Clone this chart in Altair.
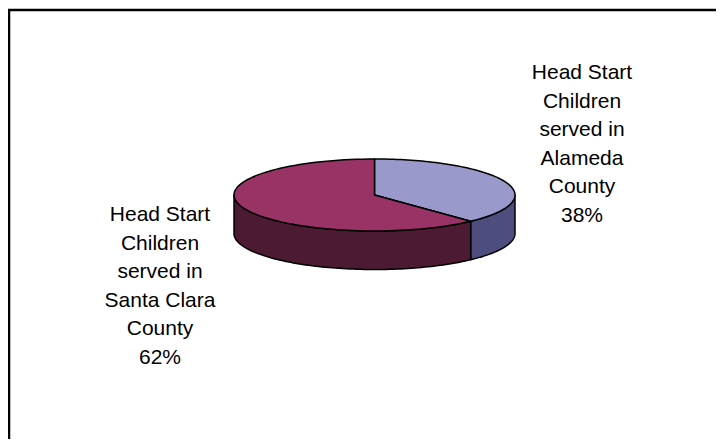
import math
import altair as alt
import pandas as pd

labels = ["Head Start|Children|served in|Alameda|County|38%", "Head Start|Children|served in|Santa Clara|County|62%"]
shares = [38, 62]
top_colors = ["#9999CC", "#993366"]
side_colors = ["#4D4D80", "#4D1A33"]
W, H = 708, 431
CX, CY, RX, RY, DEPTH = 366.5, 187, 140.5, 36, 38.5

def pt(deg, dy=0):
    a = math.radians(deg)
    return CX + RX * math.sin(a), CY - RY * math.cos(a) + dy

def steps(a, b, n=90):
    return [a + (b - a) * i / n for i in range(n + 1)]

x_s = alt.Scale(domain=[0, W], range=[0, W], nice=False, zero=False)
y_s = alt.Scale(domain=[0, H], range=[0, H], nice=False, zero=False)

def poly(points, fill):
    df = pd.DataFrame({"x": [p[0] for p in points], "y": [p[1] for p in points], "i": list(range(len(points)))})
    return alt.Chart(df).mark_line(fill=fill, stroke="#000000", strokeWidth=1.5, strokeJoin="round", interpolate="linear-closed").encode(
        x=alt.X("x:Q", scale=x_s, axis=None),
        y=alt.Y("y:Q", scale=y_s, axis=None),
        order="i:Q",
    )

end = shares[0] / sum(shares) * 360
right_arc = steps(90, end)
side_right = [pt(a) for a in right_arc] + [pt(a, DEPTH) for a in reversed(right_arc)]
left_arc = steps(end, 270)
side_left = [pt(a) for a in left_arc] + [pt(a, DEPTH) for a in reversed(left_arc)]
top_right = [(CX, CY)] + [pt(a) for a in steps(0, end)]
top_left = [(CX, CY)] + [pt(a) for a in steps(end, 360)]

frame_top = alt.Chart(pd.DataFrame({"x": [0], "x2": [W], "y": [2]})).mark_rule(color="#000000", strokeWidth=2.5).encode(
    x=alt.X("x:Q", scale=x_s, axis=None), x2="x2:Q",
    y=alt.Y("y:Q", scale=y_s, axis=None),
)
frame_left = alt.Chart(pd.DataFrame({"x": [1], "y": [1], "y2": [H]})).mark_rule(color="#000000", strokeWidth=2.5).encode(
    x=alt.X("x:Q", scale=x_s, axis=None),
    y=alt.Y("y:Q", scale=y_s, axis=None), y2="y2:Q",
)

label_df = pd.DataFrame({
    "text": [l.split("|") for l in labels],
    "x": [574, 152],
    "y": [54, 196],
})
text = alt.Chart(label_df).mark_text(font="Liberation Sans", fontSize=21, lineHeight=28.5, align="center", baseline="top", color="#000000").encode(
    x=alt.X("x:Q", scale=x_s, axis=None),
    y=alt.Y("y:Q", scale=y_s, axis=None),
    text="text:N",
)

chart = alt.layer(
    frame_top,
    frame_left,
    poly(side_right, side_colors[0]),
    poly(side_left, side_colors[1]),
    poly(top_right, top_colors[0]),
    poly(top_left, top_colors[1]),
    text,
).properties(width=W, height=H, padding=0, background="white", autosize=alt.AutoSizeParams(type="none")).configure_view(stroke=None)

chart.save("out.html", embed_options={"renderer": "svg", "actions": False})
